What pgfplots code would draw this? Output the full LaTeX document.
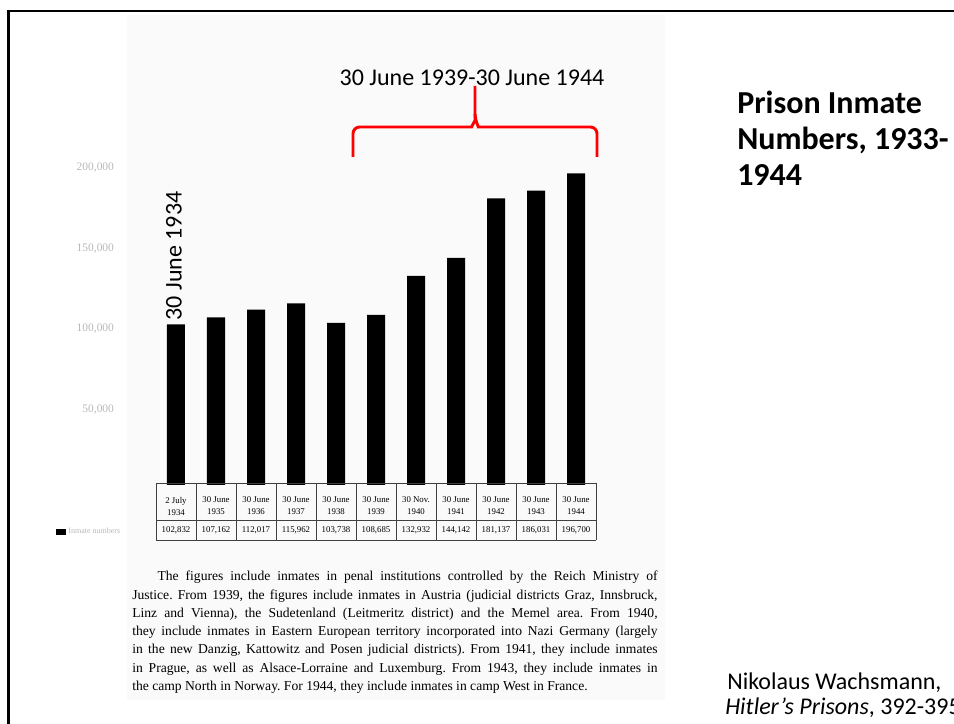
\documentclass[border=0pt]{standalone}
\usepackage{fontspec}
\setmainfont{Liberation Serif}
\newfontfamily\calib{Carlito}
\usepackage{pgfplots}
\pgfplotsset{compat=1.18}
\definecolor{scan}{gray}{0.982}
\definecolor{ghost}{gray}{0.72}
\begin{document}
\frenchspacing
\begin{tikzpicture}[x=0.75pt,y=0.75pt]
\path[use as bounding box] (0,0) rectangle (954,724);
% scanned page
\fill[scan] (127,{724-15}) rectangle (665,{724-700});
% slide frame
\draw[line width=2pt] (8.5,-10) -- (8.5,{724-11}) -- (970,{724-11});

\begin{axis}[
    at={(117pt,179.25pt)}, anchor=south west,
    scale only axis, width=330pt, height=237.7pt,
    xmin=-0.5, xmax=10.5, ymin=3000, ymax=200000,
    ybar, bar width=13.5pt,
    axis line style={draw=none}, tick style={draw=none},
    xtick=\empty, ytick={50000,100000,150000,200000},
    scaled y ticks=false,
    yticklabels={{50,000},{100,000},{150,000},{200,000}},
    yticklabel style={font=\fontsize{8.6}{9}\selectfont, text=ghost, xshift=-28pt},
    legend image code/.code={\fill[black] (0pt,-2pt) rectangle (7pt,2pt);},
    legend style={at={(-0.236,-0.148)}, anchor=west, draw=none, fill=none,
        font=\fontsize{6}{7}\selectfont, text=ghost},
    clip=false,
]
\addplot[fill=black, draw=none] coordinates {
    (0,102832) (1,107162) (2,112017) (3,115962) (4,103738) (5,108685)
    (6,132932) (7,144142) (8,181137) (9,186031) (10,196700)};
\legend{Inmate numbers}
\end{axis}

% table under the bars
\foreach \i in {0,...,11}
    \draw[black!75, line width=0.5pt] ({156+40*\i},{724-483}) -- ({156+40*\i},{724-540});
\foreach \r in {483,520,540}
    \draw[black!75, line width=0.5pt] (156,{724-\r}) -- (596,{724-\r});
\foreach \d/\y/\v [count=\k from 0] in {2 July/1934/102{,}832, 30 June/1935/107{,}162,
    30 June/1936/112{,}017, 30 June/1937/115{,}962, 30 June/1938/103{,}738,
    30 June/1939/108{,}685, 30 Nov./1940/132{,}932, 30 June/1941/144{,}142,
    30 June/1942/181{,}137, 30 June/1943/186{,}031, 30 June/1944/196{,}700} {
    \node[font=\fontsize{6.6}{9}\selectfont, align=center, inner sep=0]
        at ({176+40*\k},{724-506}) {\d\\\y};
    \node[font=\fontsize{6.6}{8}\selectfont, inner sep=0]
        at ({176+40*\k},{724-530}) {\v};
}

% caption of the scanned table
\node[anchor=north west, inner sep=0, text width=394pt, align=justify,
      font=\fontsize{10.2}{13.7}\selectfont] at (132,{724-571}) {%
\hspace*{19pt}The figures include inmates in penal institutions controlled by the Reich Ministry of\linebreak
Justice. From 1939, the figures include inmates in Austria (judicial districts Graz, Innsbruck,\linebreak
Linz and Vienna), the Sudetenland (Leitmeritz district) and the Memel area. From 1940,\linebreak
they include inmates in Eastern European territory incorporated into Nazi Germany (largely\linebreak
in the new Danzig, Kattowitz and Posen judicial districts). From 1941, they include inmates\linebreak
in Prague, as well as Alsace-Lorraine and Luxemburg. From 1943, they include inmates in\linebreak
the camp North in Norway. For 1944, they include inmates in camp West in France.};

% slide annotations
\node[font=\calib\fontsize{18}{22}\selectfont, rotate=90] at (174,{724-256}) {30 June 1934};
\node[font=\calib\fontsize{18}{22}\selectfont] at (472,{724-78}) {30 June 1939-30 June 1944};
\draw[red, line width=2.2pt, rounded corners=5pt]
    (353,{724-157}) -- (353,{724-127}) -- (465,{724-127})
    to[out=0,in=-90] (475,{724-114}) -- (475,{724-86});
\draw[red, line width=2.2pt, rounded corners=5pt]
    (475,{724-114}) to[out=-90,in=180] (485,{724-127})
    -- (597,{724-127}) -- (597,{724-157});

% slide title
\begin{scope}[every node/.style={anchor=base west, inner sep=0,
        font=\calib\bfseries\fontsize{24}{28}\selectfont}]
\node at (737,{724-114}) {Prison Inmate};
\node at (737,{724-150}) {Numbers, 1933-};
\node at (737,{724-186}) {1944};
\end{scope}

% source
\begin{scope}[every node/.style={anchor=base west, inner sep=0,
        font=\calib\fontsize{18}{22}\selectfont}]
\node at (727,{724-690}) {Nikolaus Wachsmann,};
\node at (725,{724-715}) {\itshape Hitler’s Prisons\upshape, 392-395};
\end{scope}
\end{tikzpicture}
\end{document}
